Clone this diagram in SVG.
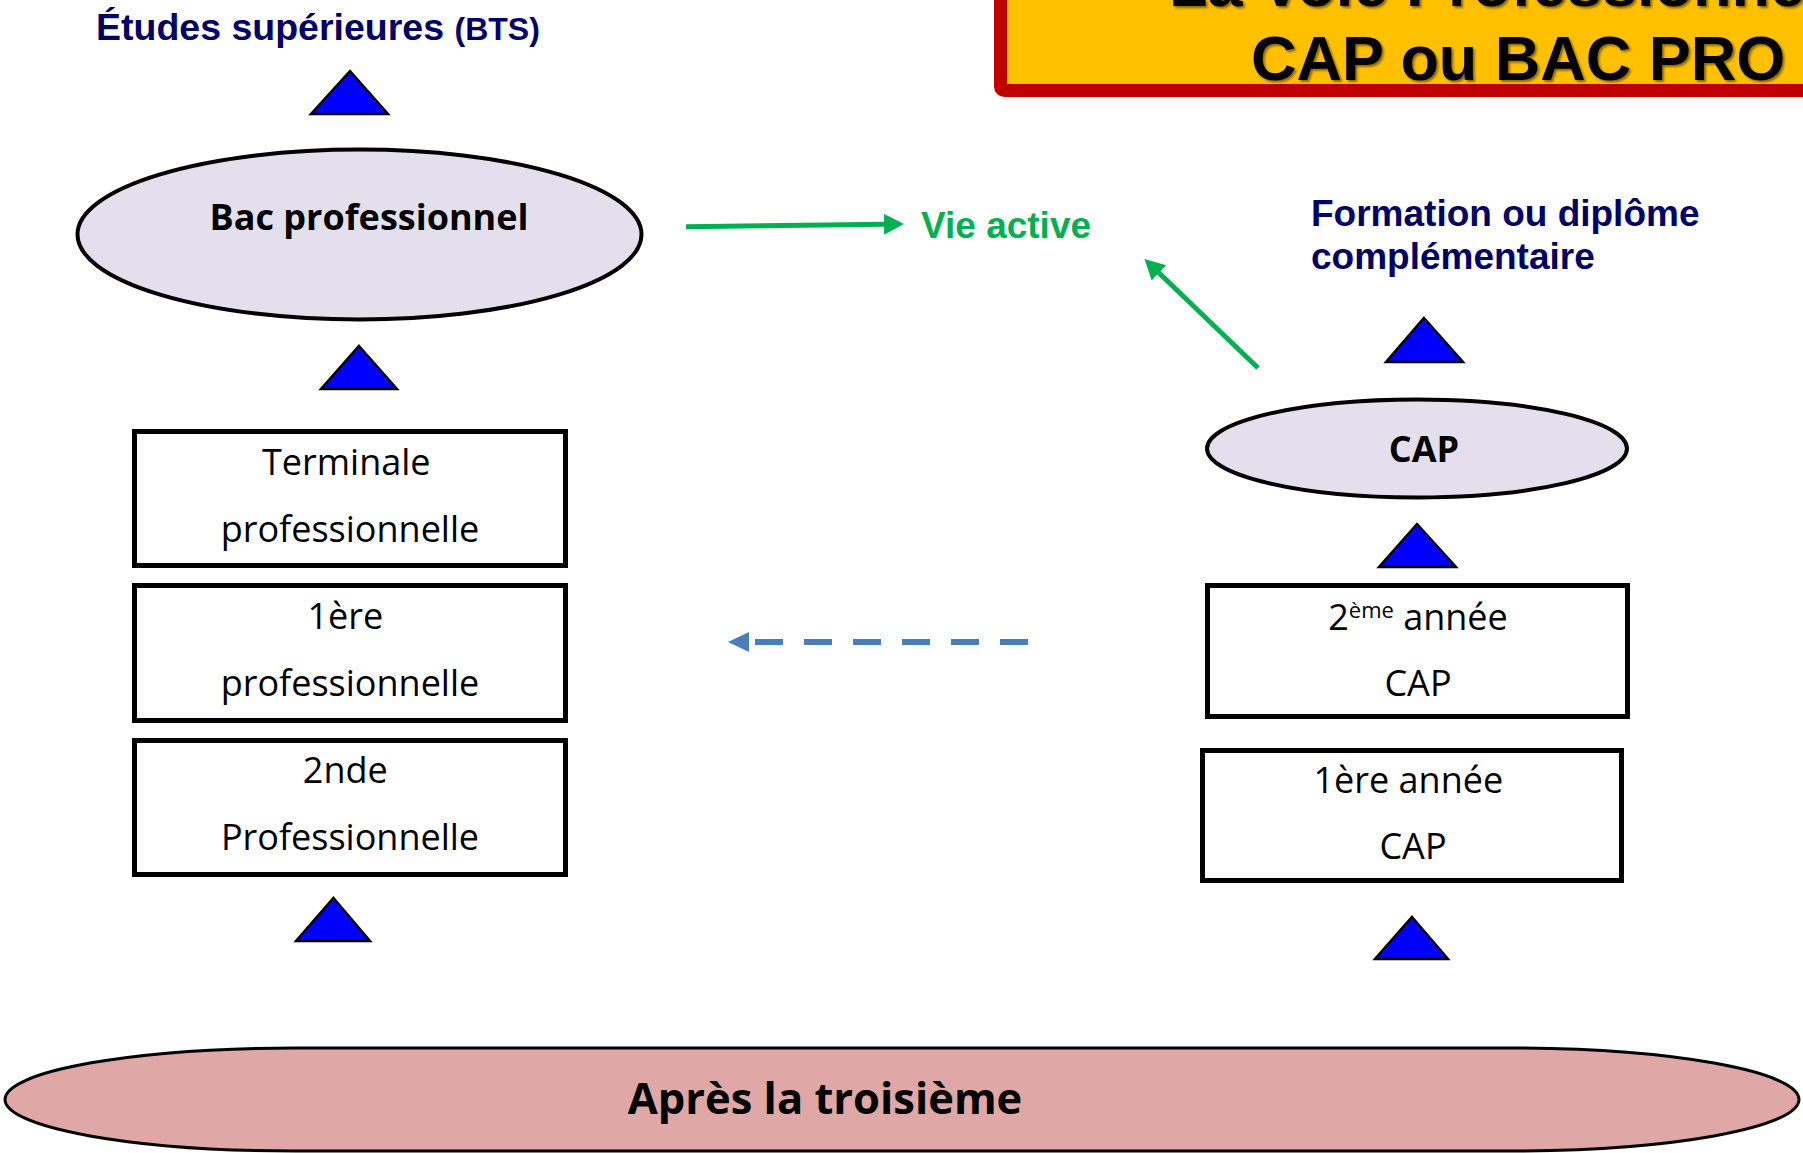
<svg xmlns="http://www.w3.org/2000/svg" width="1803" height="1153" viewBox="0 0 1803 1153">
  <style>
    .navy { font-family: "Liberation Sans", Arial, sans-serif; font-weight: bold; fill: #000066; }
    .comic { font-family: "Open Sans", "Noto Sans", sans-serif; fill: #000000; }
    .comicb { font-family: "Open Sans", "Noto Sans", sans-serif; font-weight: bold; fill: #000000; }
    .box { fill: #FFFFFF; stroke: #000000; stroke-width: 5; }
    .oval { fill: #E4DFEC; stroke: #000000; stroke-width: 4; }
    .tri { fill: #0000FF; stroke: #000000; stroke-width: 2.5; stroke-linejoin: miter; }
    .green { stroke: #00B050; stroke-width: 5; fill: none; }
  </style>
  <defs>
    <marker id="gHead" markerUnits="userSpaceOnUse" markerWidth="22" markerHeight="22" refX="2" refY="10.5" orient="auto">
      <path d="M0,0 L20,10.5 L0,21 z" fill="#00B050"/>
    </marker>
    <filter id="shadow" x="-5%" y="-20%" width="110%" height="140%">
      <feDropShadow dx="2" dy="2" stdDeviation="1.2" flood-color="#000000" flood-opacity="0.45"/>
    </filter>
  </defs>

  <rect width="1803" height="1153" fill="#FFFFFF"/>

  <g id="title-banner">
    <rect x="1000.5" y="-40" width="900" height="130.5" rx="4" fill="#FFC000" stroke="#C00000" stroke-width="13"/>
    <g filter="url(#shadow)" font-family="'Liberation Sans', Arial, sans-serif" font-weight="bold" font-size="63" fill="#000000">
      <text x="1169" y="6">La Voie Professionnelle</text>
      <text x="1251" y="80">CAP ou BAC PRO</text>
    </g>
  </g>

  <g id="etudes-superieures">
    <text class="navy" x="96" y="40" font-size="37.5">Études supérieures <tspan font-size="32">(BTS)</tspan></text>
  </g>

  <g id="bac-professionnel">
    <ellipse class="oval" cx="359.5" cy="234.5" rx="282" ry="85"/>
    <text class="comicb" x="369" y="230" font-size="36" text-anchor="middle">Bac professionnel</text>
  </g>

  <g id="vie-active">
    <text x="921" y="238" font-family="'Liberation Sans', Arial, sans-serif" font-weight="bold" font-size="37" fill="#00B050">Vie active</text>
  </g>

  <g id="formation-complementaire">
    <text class="navy" font-size="37">
      <tspan x="1311" y="226">Formation ou diplôme</tspan>
      <tspan x="1311" y="269">complémentaire</tspan>
    </text>
  </g>

  <g id="cap">
    <ellipse class="oval" cx="1417" cy="448.5" rx="210" ry="49"/>
    <text class="comicb" x="1424" y="462" font-size="36" text-anchor="middle">CAP</text>
  </g>

  <g id="terminale-pro">
    <rect class="box" x="134.5" y="431.5" width="431" height="134"/>
    <text class="comic" font-size="36" text-anchor="middle">
      <tspan x="351" y="475">Terminale</tspan>
      <tspan x="350" y="542">professionnelle</tspan>
    </text>
  </g>

  <g id="premiere-pro">
    <rect class="box" x="134.5" y="585.5" width="431" height="135"/>
    <text class="comic" font-size="36" text-anchor="middle">
      <tspan x="350" y="629">1ère</tspan>
      <tspan x="350" y="696">professionnelle</tspan>
    </text>
  </g>

  <g id="seconde-pro">
    <rect class="box" x="134.5" y="740.5" width="431" height="134"/>
    <text class="comic" font-size="36" text-anchor="middle">
      <tspan x="350" y="783">2nde</tspan>
      <tspan x="350" y="850">Professionnelle</tspan>
    </text>
  </g>

  <g id="cap-2e-annee">
    <rect class="box" x="1207.5" y="585.5" width="420" height="131"/>
    <text class="comic" font-size="36" text-anchor="middle" x="1418" y="630">2<tspan font-size="22" dy="-12">ème</tspan><tspan dy="12"> année</tspan></text>
    <text class="comic" font-size="36" text-anchor="middle" x="1418" y="696">CAP</text>
  </g>

  <g id="cap-1re-annee">
    <rect class="box" x="1202.5" y="750.5" width="419" height="130"/>
    <text class="comic" font-size="36" text-anchor="middle">
      <tspan x="1413" y="793">1ère année</tspan>
      <tspan x="1413" y="859">CAP</tspan>
    </text>
  </g>

  <g id="apres-la-troisieme">
    <rect x="5" y="1048" width="1794" height="103" rx="290" ry="51.5" fill="#DFA7A6" stroke="#000000" stroke-width="3"/>
    <text x="825" y="1114" font-family="'Open Sans', 'Noto Sans', sans-serif" font-weight="bold" font-size="43.5" text-anchor="middle" fill="#000000">Après la troisième</text>
  </g>

  <g id="connectors">
    <polygon class="tri" points="350,71 388,114 311,114"/>
    <polygon class="tri" points="359,346 397,389 321,389"/>
    <polygon class="tri" points="333.5,898 370,941 296,941"/>
    <polygon class="tri" points="1424,318 1463,362 1386,362"/>
    <polygon class="tri" points="1417,524 1456,567 1379,567"/>
    <polygon class="tri" points="1412,917 1448,959 1375,959"/>
    <line class="green" x1="686" y1="226.8" x2="886" y2="224.3" marker-end="url(#gHead)"/>
    <line class="green" x1="1258" y1="368" x2="1157.5" y2="271.5" marker-end="url(#gHead)"/>
    <line x1="1028" y1="642" x2="755" y2="642" stroke="#4A7EBB" stroke-width="6" stroke-dasharray="28 21"/>
    <polygon points="728,642 749,632 749,652" fill="#4A7EBB"/>
  </g>
</svg>
